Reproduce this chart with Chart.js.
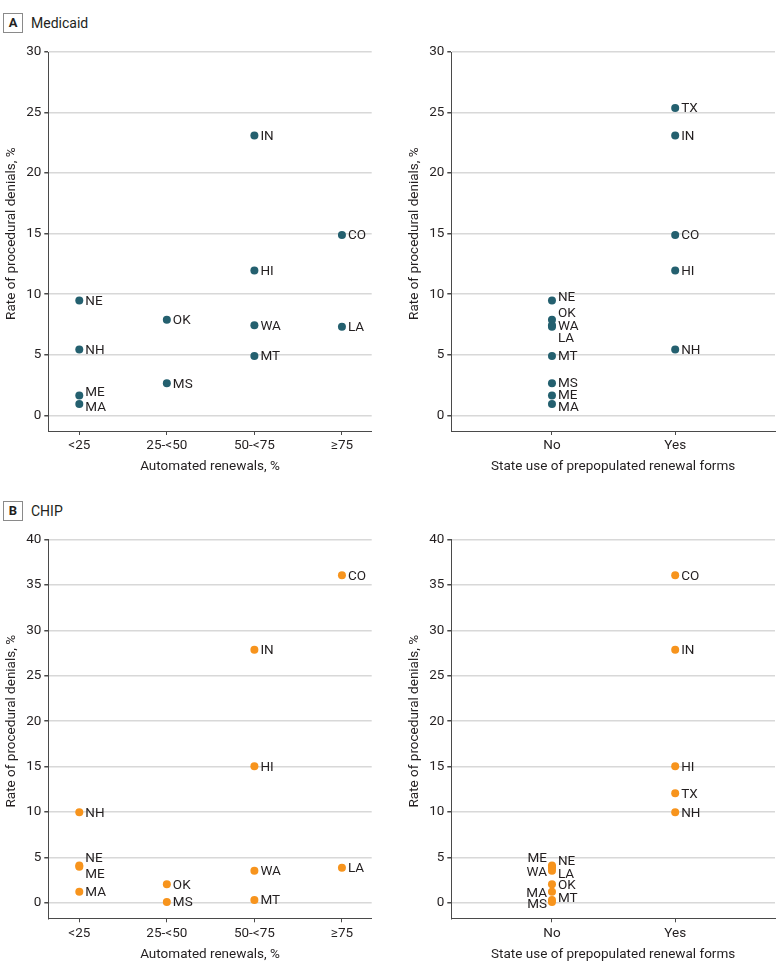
<!DOCTYPE html>
<html>
<head>
<meta charset="utf-8">
<script src="https://cdn.jsdelivr.net/npm/chart.js@4.4.1/dist/chart.umd.min.js"></script>
<style>
  html, body { margin: 0; padding: 0; background: #fff; width: 780px; height: 973px; overflow: hidden; }
  body { position: relative; font-family: Roboto, "Open Sans", sans-serif; color: #231f20; }
  .panel { position: absolute; }
  .tag { position: absolute; width: 18px; height: 18px; border: 1px solid #8a8a8a; font-weight: bold; font-size: 13px; line-height: 18px; text-align: center; }
  .tagtxt { position: absolute; font-size: 14px; line-height: 20px; }
</style>
</head>
<body>
<div class="tag" style="left:3px;top:13px;">A</div>
<div class="tagtxt" style="left:31px;top:13px;">Medicaid</div>
<div class="tag" style="left:3px;top:501px;">B</div>
<div class="tagtxt" style="left:31px;top:501px;">CHIP</div>

<div class="panel" style="left:0;top:40px;width:390px;height:440px;"><canvas id="medAuto"></canvas></div>
<div class="panel" style="left:390px;top:40px;width:390px;height:440px;"><canvas id="medPrepop"></canvas></div>
<div class="panel" style="left:0;top:500px;width:390px;height:473px;"><canvas id="chipAuto"></canvas></div>
<div class="panel" style="left:390px;top:500px;width:390px;height:473px;"><canvas id="chipPrepop"></canvas></div>

<script>
// categories
const renewalBins = ['<25', '25-<50', '50-<75', '≥75'];
const prepopCats = ['No', 'Yes'];

// states and their groupings (TX has no automated-renewal data)
const states   = ['NE', 'NH', 'ME', 'MA', 'OK', 'MS', 'IN', 'HI', 'WA', 'MT', 'CO', 'LA', 'TX'];
const autoBin  = ['<25', '<25', '<25', '<25', '25-<50', '25-<50', '50-<75', '50-<75', '50-<75', '50-<75', '≥75', '≥75', null];
const prepop   = ['No', 'Yes', 'No', 'No', 'No', 'No', 'Yes', 'Yes', 'No', 'No', 'Yes', 'No', 'Yes'];

// rate of procedural denials, %
const medicaidRates = [9.48, 5.43, 1.63, 0.93, 7.88, 2.64, 23.1, 11.96, 7.44, 4.9, 14.88, 7.3, 25.37];
const chipRates     = [4.1, 9.96, 3.95, 1.21, 2.03, 0.08, 27.88, 15.03, 3.53, 0.3, 36.07, 3.86, 12.05];

// y tick labels
const medicaidTicks = [0, 5, 10, 15, 20, 25, 30];
const chipTicks     = [0, 5, 10, 15, 20, 25, 30, 35, 40];

const TEAL = '#24606f';
const ORANGE = '#f7941d';
const INK = '#231f20';
const AXIS = '#4a4a4a';
const FONT = 'Roboto, "Open Sans", sans-serif';

function buildPoints(groups, cats, rates) {
    const pts = [], labels = [];
    states.forEach((s, i) => {
        const c = cats.indexOf(groups[i]);
        if (c < 0) return;
        pts.push({ x: c + 1, y: rates[i] });
        labels.push(s);
    });
    return { pts, labels };
}

// draws the state codes next to each dot
const stateLabels = {
    id: 'stateLabels',
    afterDatasetsDraw(chart, args, opts) {
        const ctx = chart.ctx;
        const ds = chart.data.datasets[0];
        const meta = chart.getDatasetMeta(0);
        ctx.save();
        ctx.font = '13.5px ' + FONT;
        ctx.fillStyle = INK;
        ctx.textBaseline = 'middle';
        meta.data.forEach((pt, i) => {
            const code = ds.labels[i];
            const n = (opts.nudge || {})[code] || {};
            const left = n.side === 'left';
            ctx.textAlign = left ? 'right' : 'left';
            ctx.fillText(code, pt.x + (left ? -5 : 6), pt.y + (n.dy !== undefined ? n.dy : 1));
        });
        ctx.restore();
    }
};

// y title centred on the 0..max tick range
const yTitle = {
    id: 'yTitle',
    afterDraw(chart, args, opts) {
        const y = chart.scales.y;
        const ctx = chart.ctx;
        const top = y.getPixelForValue(opts.max);
        const bottom = y.getPixelForValue(0);
        ctx.save();
        ctx.translate(y.left + 12, (top + bottom) / 2);
        ctx.rotate(-Math.PI / 2);
        ctx.font = '13.5px ' + FONT;
        ctx.fillStyle = INK;
        ctx.textAlign = 'center';
        ctx.textBaseline = 'middle';
        ctx.fillText('Rate of procedural denials, %', 0, 0);
        ctx.restore();
    }
};

function createChart(canvasId, opt) {
    const built = buildPoints(opt.groups, opt.cats, opt.rates);
    const tickFont = { family: FONT, size: 13.5 };
    return new Chart(document.getElementById(canvasId), {
        type: 'scatter',
        data: {
            datasets: [{
                data: built.pts,
                labels: built.labels,
                backgroundColor: opt.color,
                borderWidth: 0,
                pointRadius: 4,
                pointHoverRadius: 4
            }]
        },
        plugins: [stateLabels, yTitle],
        options: {
            responsive: true,
            maintainAspectRatio: false,
            animation: false,
            layout: { padding: opt.padding },
            plugins: {
                legend: { display: false },
                tooltip: { enabled: false },
                stateLabels: { nudge: opt.nudge },
                yTitle: { max: opt.yTicks[opt.yTicks.length - 1] }
            },
            scales: {
                x: {
                    type: 'linear',
                    min: opt.xMin,
                    max: opt.xMax,
                    afterBuildTicks: s => { s.ticks = opt.cats.map((c, i) => ({ value: i + 1 })); },
                    afterFit: s => { s.height = 48; },
                    ticks: {
                        color: INK,
                        font: tickFont,
                        padding: 3,
                        callback: v => opt.cats[v - 1]
                    },
                    grid: { drawOnChartArea: false, drawTicks: true, tickLength: 4, tickColor: AXIS },
                    border: { color: AXIS, width: 1 },
                    title: {
                        display: true,
                        text: opt.xTitle,
                        color: INK,
                        font: tickFont,
                        padding: { top: 6, bottom: 4 }
                    }
                },
                y: {
                    min: opt.yMin,
                    max: opt.yTicks[opt.yTicks.length - 1],
                    afterBuildTicks: s => { s.ticks = opt.yTicks.map(v => ({ value: v })); },
                    afterFit: s => { s.width = 48.3; },
                    ticks: { color: INK, font: tickFont, padding: 3 },
                    grid: { color: '#d8d8d8', lineWidth: 1.5, tickLength: 4, tickColor: AXIS },
                    border: { color: AXIS, width: 1 }
                }
            }
        }
    });
}

createChart('medAuto', {
    groups: autoBin, cats: renewalBins, rates: medicaidRates, color: TEAL,
    yTicks: medicaidTicks, yMin: -1.3, xMin: 0.646, xMax: 4.34,
    xTitle: 'Automated renewals, %',
    padding: { top: 12, bottom: 1, left: 0, right: 18.3 },
    nudge: { ME: { dy: -3 }, MA: { dy: 4 } }
});

createChart('medPrepop', {
    groups: prepop, cats: prepopCats, rates: medicaidRates, color: TEAL,
    yTicks: medicaidTicks, yMin: -1.3, xMin: 0.183, xMax: 2.81,
    xTitle: 'State use of prepopulated renewal forms',
    padding: { top: 12, bottom: 1, left: 13, right: 5 },
    nudge: { NE: { dy: -3 }, OK: { dy: -6 }, WA: { dy: 1 }, LA: { dy: 12 }, MA: { dy: 4 }, MS: { dy: 0 }, ME: { dy: 0 } }
});

createChart('chipAuto', {
    groups: autoBin, cats: renewalBins, rates: chipRates, color: ORANGE,
    yTicks: chipTicks, yMin: -1.72, xMin: 0.646, xMax: 4.34,
    xTitle: 'Automated renewals, %',
    padding: { top: 39.7, bottom: 6.7, left: 0, right: 18.3 },
    nudge: { NE: { dy: -7 }, ME: { dy: 7.5 } }
});

createChart('chipPrepop', {
    groups: prepop, cats: prepopCats, rates: chipRates, color: ORANGE,
    yTicks: chipTicks, yMin: -1.72, xMin: 0.183, xMax: 2.81,
    xTitle: 'State use of prepopulated renewal forms',
    padding: { top: 39.7, bottom: 6.7, left: 13, right: 5 },
    nudge: {
        ME: { side: 'left', dy: -8 }, NE: { dy: -4 },
        WA: { side: 'left', dy: 1.5 }, LA: { dy: 7 },
        OK: { dy: 1.5 }, MA: { side: 'left', dy: 1.5 },
        MS: { side: 'left', dy: 3 }, MT: { dy: -1 }
    }
});
</script>
</body>
</html>
